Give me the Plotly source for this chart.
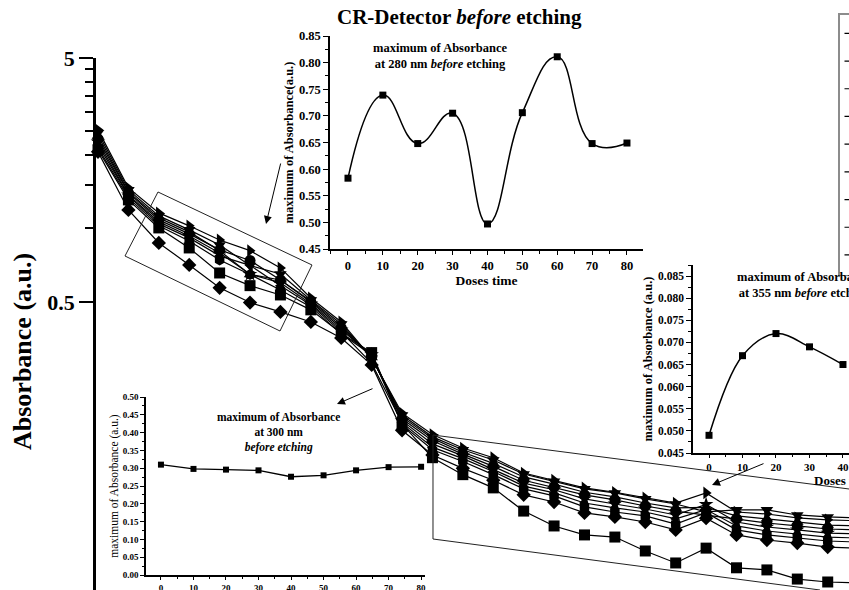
import plotly.graph_objects as go

W, H = 849, 590
SERIF = "Liberation Serif"

# ---- main spectra (absorbance vs wavelength, one curve per dose time) ----
wavelength_nm = [255, 260, 265, 270, 275, 280, 285, 290, 295, 300, 305, 310, 315,
                 320, 325, 330, 335, 340, 345, 350, 355, 360, 365, 370, 375, 380]

abs_dose_0 = [2.099, 1.309, 1.005, 0.832, 0.657, 0.583, 0.534, 0.464, 0.372, 0.310, 0.158, 0.115, 0.098,
              0.0865, 0.0695, 0.0604, 0.0555, 0.0544, 0.0477, 0.0426, 0.049, 0.0407, 0.0399, 0.0366, 0.0356, 0.0353]
abs_dose_10 = [2.328, 1.399, 1.084, 0.950, 0.817, 0.739, 0.615, 0.500, 0.391, 0.298, 0.166, 0.135, 0.119,
               0.106, 0.093, 0.0871, 0.081, 0.0773, 0.0729, 0.0695, 0.067, 0.0646, 0.0621, 0.0604, 0.0587, 0.0582]
abs_dose_20 = [2.395, 1.412, 1.105, 0.968, 0.810, 0.648, 0.615, 0.505, 0.398, 0.296, 0.169, 0.138, 0.121,
               0.109, 0.0959, 0.0896, 0.083, 0.0795, 0.075, 0.0716, 0.072, 0.0664, 0.0646, 0.0627, 0.0609, 0.0604]
abs_dose_30 = [2.464, 1.439, 1.126, 0.987, 0.856, 0.705, 0.651, 0.509, 0.406, 0.294, 0.172, 0.140, 0.124,
               0.1125, 0.0986, 0.0921, 0.0857, 0.0825, 0.078, 0.0743, 0.069, 0.0703, 0.0703, 0.067, 0.0658, 0.0652]
abs_dose_40 = [2.060, 1.191, 0.872, 0.709, 0.571, 0.497, 0.455, 0.414, 0.356, 0.276, 0.149, 0.118, 0.104,
               0.093, 0.081, 0.0757, 0.0683, 0.0658, 0.0627, 0.0582, 0.065, 0.0555, 0.0529, 0.0514, 0.0495, 0.049]
abs_dose_50 = [2.200, 1.360, 1.044, 0.915, 0.772, 0.706, 0.582, 0.486, 0.377, 0.280, 0.160, 0.127, 0.114,
               0.101, 0.088, 0.0825, 0.075, 0.0716, 0.0689, 0.0646, 0.0705, 0.0604, 0.0576, 0.056, 0.0544, 0.0539]
abs_dose_60 = [2.535, 1.466, 1.158, 1.025, 0.897, 0.811, 0.689, 0.519, 0.414, 0.294, 0.175, 0.143, 0.126,
               0.115, 0.0995, 0.093, 0.0865, 0.083, 0.0787, 0.075, 0.0825, 0.0689, 0.0676, 0.0652, 0.064, 0.0634]
abs_dose_70 = [2.139, 1.334, 1.025, 0.889, 0.743, 0.648, 0.560, 0.477, 0.370, 0.303, 0.157, 0.124, 0.111,
               0.098, 0.0857, 0.0802, 0.0723, 0.0689, 0.0664, 0.0615, 0.0685, 0.0582, 0.0555, 0.0539, 0.0524, 0.0519]
abs_dose_80 = [2.263, 1.373, 1.064, 0.932, 0.794, 0.649, 0.599, 0.491, 0.384, 0.304, 0.163, 0.131, 0.117,
               0.103, 0.0905, 0.085, 0.078, 0.0743, 0.0709, 0.067, 0.074, 0.0627, 0.0598, 0.0582, 0.0565, 0.056]

dose_names = ["0", "10", "20", "30", "40", "50", "60", "70", "80"]
dose_symbols = ["square", "circle", "triangle-up", "triangle-down", "diamond",
                "triangle-left", "triangle-right", "hexagon", "star"]
spectra = [abs_dose_0, abs_dose_10, abs_dose_20, abs_dose_30, abs_dose_40,
           abs_dose_50, abs_dose_60, abs_dose_70, abs_dose_80]

# ---- inset data: maximum absorbance vs dose time ----
doses = [0, 10, 20, 30, 40, 50, 60, 70, 80]
max_abs_280 = [0.583, 0.739, 0.648, 0.705, 0.497, 0.706, 0.811, 0.648, 0.649]
max_abs_300 = [0.310, 0.298, 0.296, 0.294, 0.276, 0.280, 0.294, 0.303, 0.304]
doses_355 = [0, 10, 20, 30, 40]
max_abs_355 = [0.049, 0.067, 0.072, 0.069, 0.065]


def px(x, y):
    """pixel position -> paper fraction"""
    return x / W, 1 - y / H


fig = go.Figure()

for name, sym, vals in zip(dose_names, dose_symbols, spectra):
    fig.add_trace(go.Scatter(
        x=wavelength_nm, y=vals, name=name, mode="lines+markers",
        line=dict(color="black", width=1.2),
        marker=dict(symbol=sym, size=11, color="black"),
        cliponaxis=False, xaxis="x", yaxis="y"))

fig.add_trace(go.Scatter(
    x=doses, y=max_abs_280, mode="lines+markers", showlegend=False,
    line=dict(color="black", width=1.5, shape="spline", smoothing=1.3),
    marker=dict(symbol="square", size=7, color="black"),
    xaxis="x2", yaxis="y2"))
fig.add_trace(go.Scatter(
    x=doses_355, y=max_abs_355, mode="lines+markers", showlegend=False,
    line=dict(color="black", width=1.5, shape="spline", smoothing=1.0),
    marker=dict(symbol="square", size=7, color="black"),
    cliponaxis=False, xaxis="x3", yaxis="y3"))
fig.add_trace(go.Scatter(
    x=doses, y=max_abs_300, mode="lines+markers", showlegend=False,
    line=dict(color="black", width=1.3),
    marker=dict(symbol="square", size=6, color="black"),
    xaxis="x4", yaxis="y4"))

bold = dict(family=SERIF, color="black", weight="bold")


def inset_axis(**kw):
    base = dict(showline=True, linecolor="black", linewidth=1.5, ticks="outside",
                ticklen=5, tickwidth=1.2, tickcolor="black", showgrid=False,
                zeroline=False, mirror=False)
    base.update(kw)
    return base


fig.update_layout(
    width=W, height=H,
    margin=dict(l=0, r=0, t=0, b=0, autoexpand=False),
    paper_bgcolor="white", plot_bgcolor="rgba(0,0,0,0)",
    font=dict(family=SERIF, color="black"),
    showlegend=True,
    legend=dict(x=838 / W, y=1 - 13 / H, xanchor="left", yanchor="top",
                bordercolor="#8c8c8c", borderwidth=1.5, bgcolor="rgba(0,0,0,0)",
                font=dict(family=SERIF, size=19), tracegroupgap=0),
    xaxis=dict(domain=[96 / W, 1], range=[254.67, 378.5], visible=False),
    yaxis=dict(domain=[0, 532.2 / H], type="log", range=[-1.48136, 0.6992],
               anchor="x", showline=True, linecolor="black", linewidth=2.5,
               ticks="outside", tickvals=[0.5, 5], ticktext=["0.5", "5"],
               ticklen=14, tickwidth=2, tickcolor="black",
               tickfont=dict(size=22, **bold), showgrid=False, zeroline=False,
               minor=dict(tickvals=[1, 1.5, 2, 2.5, 3, 3.5, 4, 4.5], ticks="outside",
                          ticklen=8, tickwidth=2, tickcolor="black", showgrid=False)),
    # inset: 280 nm
    xaxis2=inset_axis(domain=[330 / W, 643 / W], anchor="y2", range=[-5.16, 84.6],
                      tick0=0, dtick=10, ticklen=4, tickfont=dict(size=12.5, **bold),
                      minor=dict(dtick=5, ticks="outside", ticklen=3, tickcolor="black"),
                      title=dict(text="Doses time", font=dict(size=13.5, **bold), standoff=1)),
    yaxis2=inset_axis(domain=[1 - 249 / H, 1 - 36 / H], anchor="x2", range=[0.45, 0.85],
                      tick0=0.45, dtick=0.05, tickformat=".2f", tickfont=dict(size=12.5, **bold),
                      minor=dict(dtick=0.025, ticks="outside", ticklen=3, tickcolor="black"),
                      title=dict(text="maximum of Absorbance(a.u.)", font=dict(size=12.5, **bold),
                                 standoff=3)),
    # inset: 355 nm
    xaxis3=inset_axis(domain=[693 / W, 1], anchor="y3", range=[-4.78, 41.8],
                      tick0=0, dtick=10, ticklen=3, tickfont=dict(size=11, **bold),
                      minor=dict(dtick=5, ticks="outside", ticklen=2, tickcolor="black")),
    yaxis3=inset_axis(domain=[1 - 453 / H, 1 - 265 / H], anchor="x3", range=[0.045, 0.0875],
                      tick0=0.045, dtick=0.005, tickformat=".3f", tickfont=dict(size=11.5, **bold),
                      minor=dict(dtick=0.0025, ticks="outside", ticklen=3, tickcolor="black"),
                      title=dict(text="maximum of Absorbance (a.u.)", font=dict(size=12.5, **bold),
                                 standoff=3)),
    # inset: 300 nm
    xaxis4=inset_axis(domain=[146 / W, 425 / W], anchor="y4", range=[-4.6, 81.2],
                      tick0=0, dtick=10, ticklen=3, tickfont=dict(size=9, **bold),
                      minor=dict(dtick=5, ticks="outside", ticklen=2, tickcolor="black")),
    yaxis4=inset_axis(domain=[1 - 575 / H, 1 - 397 / H], anchor="x4", range=[0, 0.5],
                      tick0=0, dtick=0.05, tickformat=".2f", ticklen=4, tickfont=dict(size=9, **bold),
                      minor=dict(dtick=0.025, ticks="outside", ticklen=2.5, tickcolor="black"),
                      title=dict(text="maximum of Absorbance (a.u.)",
                                 font=dict(family=SERIF, size=11.5, color="black"), standoff=2)),
)

annotations = []


def note(text, x, y, size, xanchor="center", **kw):
    ax_, ay_ = px(x, y)
    d = dict(text=text, x=ax_, y=ay_, xref="paper", yref="paper", showarrow=False,
             xanchor=xanchor, yanchor="middle",
             font=dict(family=SERIF, size=size, color="black"))
    d.update(kw)
    annotations.append(d)


note("<b>CR-Detector <i>before</i> etching</b>", 460, 17, 21)
note("<b>Absorbance (a.u.)</b>", 22, 352, 26, textangle=-90)
note("<b>maximum of Absorbance<br>at 280 nm <i>before</i> etching</b>", 440, 56, 12.5)
note("<b>maximum of Absorbance<br>at 355 nm <i>before</i> etching</b>", 804, 285, 12.5)
note("<b>maximum of Absorbance<br>at 300 nm<br><i>before etching</i></b>", 278, 432, 11.5)
note("<b>Doses time</b>", 812, 480, 13, xanchor="left")


def arrow(head, tail):
    hx, hy = px(*head)
    annotations.append(dict(x=hx, y=hy, xref="paper", yref="paper", text="",
                            showarrow=True, arrowhead=2, arrowsize=1.6, arrowwidth=1,
                            arrowcolor="black", ax=tail[0] - head[0], ay=tail[1] - head[1]))


arrow((266, 224), (281, 162))
arrow((337, 404), (374, 388))
arrow((712, 485), (765, 463))

fig.update_layout(annotations=annotations)


def path(points, close=False):
    segs = []
    for k, (x, y) in enumerate(points):
        fx, fy = px(x, y)
        segs.append(("M" if k == 0 else "L") + f" {fx:.5f},{fy:.5f}")
    return " ".join(segs) + (" Z" if close else "")


fig.add_shape(type="path", xref="paper", yref="paper",
              path=path([(158, 192), (312, 265), (280, 331), (125, 256)], close=True),
              line=dict(color="#222", width=1))
fig.add_shape(type="path", xref="paper", yref="paper",
              path=path([(849, 489), (433, 435), (433, 539), (820, 590)]),
              line=dict(color="#222", width=1))

fig.write_html("out.html")
